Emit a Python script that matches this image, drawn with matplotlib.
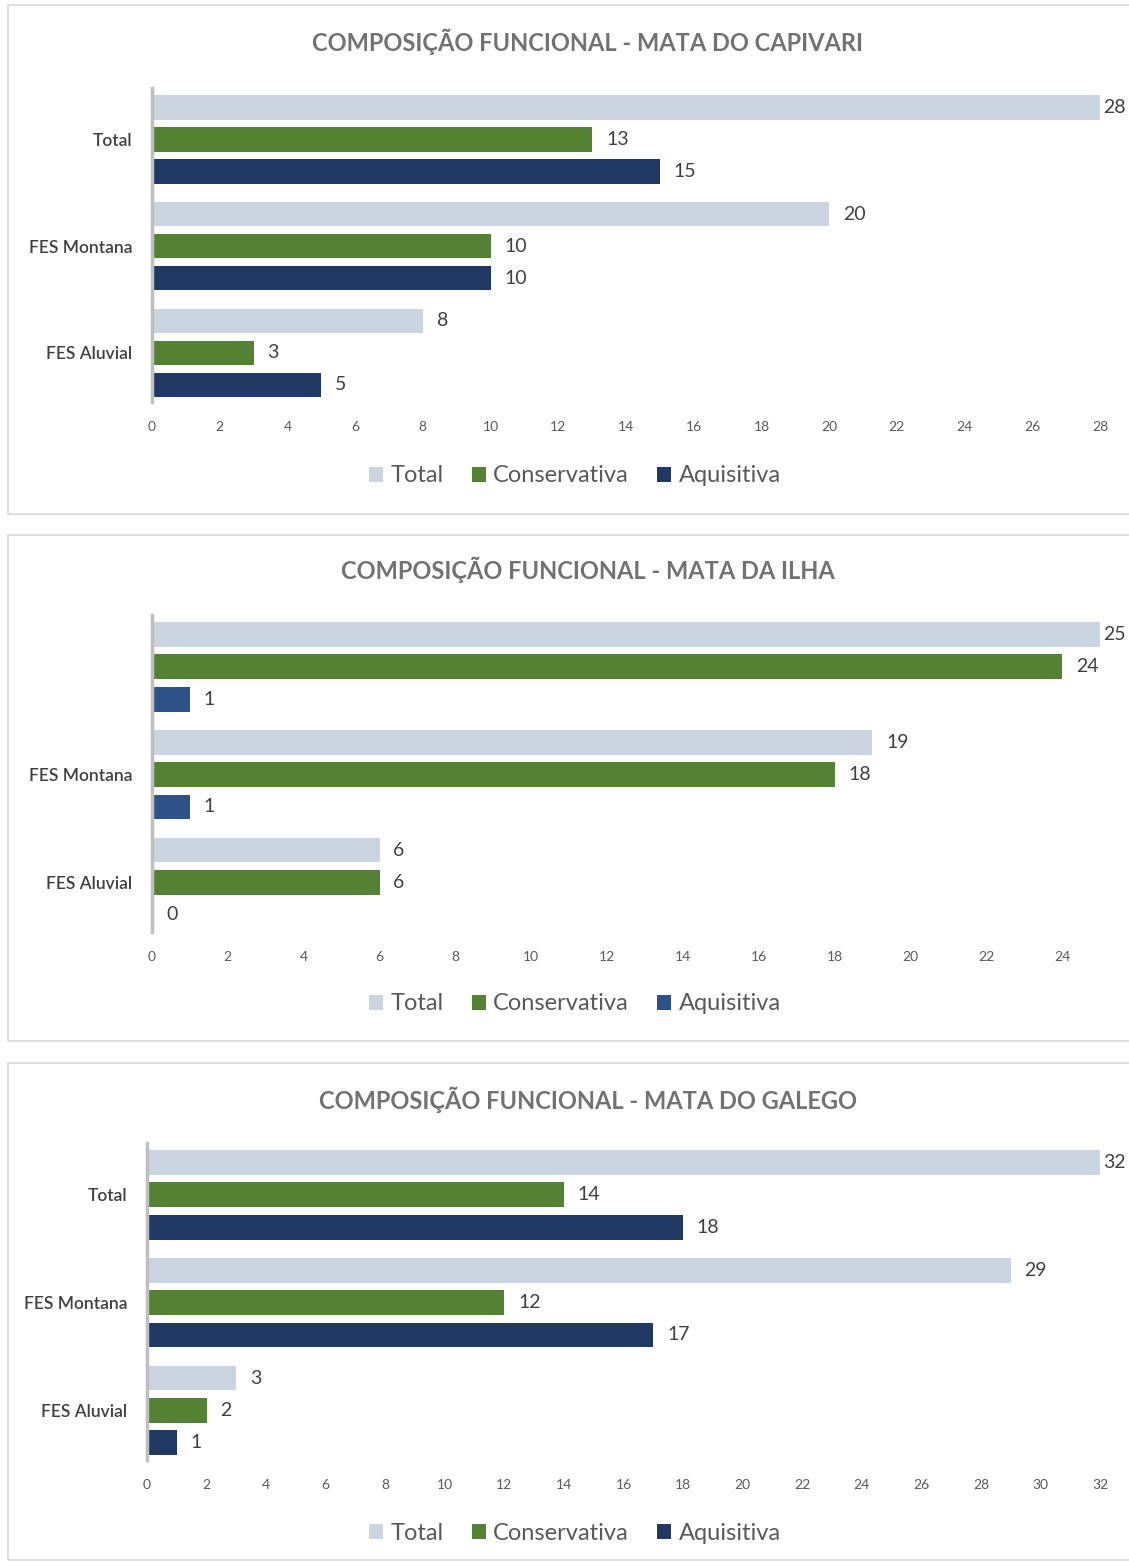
import matplotlib.pyplot as plt
from matplotlib.patches import Rectangle
import numpy as np

plt.rcParams['font.family'] = ['Lato', 'DejaVu Sans']

series = ["Total", "Conservativa", "Aquisitiva"]

titles = ["COMPOSIÇÃO FUNCIONAL - MATA DO CAPIVARI",
          "COMPOSIÇÃO FUNCIONAL - MATA DA ILHA",
          "COMPOSIÇÃO FUNCIONAL - MATA DO GALEGO"]
categories_1 = ["Total", "FES Montana", "FES Aluvial"]
categories_2 = ["", "FES Montana", "FES Aluvial"]
categories_3 = ["Total", "FES Montana", "FES Aluvial"]

total_1 = [28, 20, 8]
cons_1 = [13, 10, 3]
aqui_1 = [15, 10, 5]

total_2 = [25, 19, 6]
cons_2 = [24, 18, 6]
aqui_2 = [1, 1, 0]

total_3 = [32, 29, 3]
cons_3 = [14, 12, 2]
aqui_3 = [18, 17, 1]

xmax = [28, 25, 32]

W, H = 1129, 1562
fig = plt.figure(figsize=(W / 100, H / 100), dpi=100)

def fx(px):
    return px / W

def fy(py):
    return 1 - py / H

panels = [
    dict(box=(5, 514), left=152, top=88, bottom=402, ty=42, ly=476, cats=categories_1,
         vals=[total_1, cons_1, aqui_1], aq="#203864"),
    dict(box=(535, 1041), left=152, top=615, bottom=932, ty=570, ly=1004, cats=categories_2,
         vals=[total_2, cons_2, aqui_2], aq="#2e5288"),
    dict(box=(1063, 1560), left=147, top=1143, bottom=1460, ty=1100, ly=1533, cats=categories_3,
         vals=[total_3, cons_3, aqui_3], aq="#203864"),
]

right = 1100
h = 0.23
off = 0.3

for i, p in enumerate(panels):
    b0, b1 = p["box"]
    fig.patches.append(Rectangle((fx(8), fy(b1)), fx(1200 - 8), (b1 - b0) / H,
                                 transform=fig.transFigure, fill=False,
                                 edgecolor="#d9d9d9", linewidth=1.2))
    ax = fig.add_axes([fx(p["left"]), fy(p["bottom"]), fx(right - p["left"]),
                       (p["bottom"] - p["top"]) / H])
    y = np.arange(3)
    colors = ["#cbd4e1", "#548235", p["aq"]]
    handles = []
    for k in range(3):
        bars = ax.barh(y + (k - 1) * off, p["vals"][k], height=h, color=colors[k],
                       label=series[k])
        handles.append(bars)
        for bar, v in zip(bars, p["vals"][k]):
            dx = 2 if v == xmax[i] else 10
            ax.annotate(str(v), (v, bar.get_y() + bar.get_height() / 2),
                        xytext=(dx, 0), textcoords="offset points",
                        va="center", ha="left", fontsize=14, color="#404040")
    ax.set_xlim(0, xmax[i])
    ax.set_ylim(2.46, -0.48)
    ax.set_yticks(y)
    ax.set_yticklabels(p["cats"], fontsize=12.5, color="#404040", fontweight="semibold")
    ax.set_xticks(np.arange(0, xmax[i] + 1, 2))
    ax.tick_params(axis="x", length=0, labelsize=10, labelcolor="#595959", pad=14)
    ax.tick_params(axis="y", length=0, pad=14)
    for s in ["top", "right", "bottom"]:
        ax.spines[s].set_visible(False)
    ax.spines["left"].set_color("#bfbfbf")
    ax.spines["left"].set_linewidth(2.5)
    fig.text(fx(588), fy(p["ty"]), titles[i], ha="center", va="center", fontsize=17,
             fontweight="bold", color="#727272")
    fig.legend(handles=handles, loc="center", bbox_to_anchor=(fx(575), fy(p["ly"])),
               ncol=3, frameon=False, fontsize=17, handlelength=0.6, handleheight=0.6,
               handletextpad=0.3, columnspacing=1.2, labelcolor="#595959")

fig.savefig("out.png", dpi=100)
